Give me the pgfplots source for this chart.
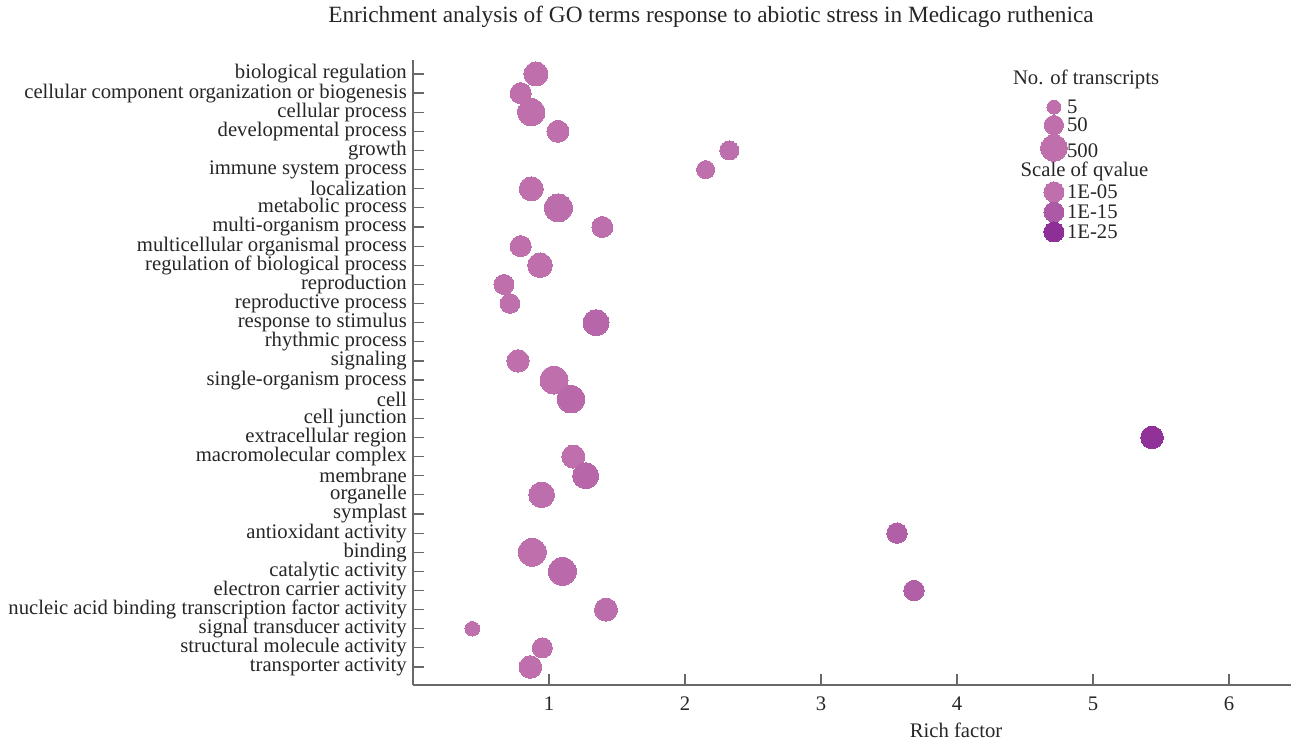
\documentclass[border=0pt]{standalone}
\usepackage{pgfplots}
\pgfplotsset{compat=1.18}
\usepackage{pgfplotstable}
\usepackage{fontspec}
\setmainfont{Liberation Serif}
\definecolor{axgray}{RGB}{105,105,105}

% y = category index (0 = bottom), x = rich factor, r = bubble radius (px), c = shade (0 light .. 1 dark)
\pgfplotstableread{
y  x      r     c
31 0.904  12.0  0.05
30 0.792  10.5  0.05
29 0.870  13.6  0.05
28 1.066  11.0  0.05
27 2.326  9.5   0.08
26 2.152  9.0   0.05
25 0.870  12.0  0.05
24 1.069  14.0  0.10
23 1.392  10.5  0.08
22 0.792  10.5  0.05
21 0.934  12.3  0.05
20 0.669  10.0  0.05
19 0.713  9.8   0.05
18 1.346  13.0  0.22
16 0.772  11.2  0.05
15 1.037  14.0  0.05
14 1.162  13.8  0.18
12 5.434  11.3  0.95
11 1.179  11.5  0.05
10 1.270  13.0  0.22
9  0.946  12.8  0.08
7  3.559  10.2  0.35
6  0.877  14.0  0.05
5  1.098  14.0  0.15
4  3.684  10.2  0.35
3  1.419  11.5  0.10
2  0.436  7.3   0.05
1  0.951  10.0  0.05
0  0.863  11.3  0.05
}\datatable

% legend bubbles (size)
\pgfplotstableread{
y      x      r
29.27  4.713  7.0
28.33  4.713  9.6
27.13  4.713  13.2
}\legsize
% legend bubbles (colour)
\pgfplotstableread{
y      x      r     c
24.83  4.713  10.0  0.05
23.78  4.713  10.0  0.45
22.74  4.713  10.0  1.00
}\legcol

\pgfplotsset{bubble/.style={scatter, only marks, mark=*,
  visualization depends on={\thisrow{r}\as\rad},
  scatter/use mapped color={draw=mapped color, fill=mapped color, line width=0pt},
  scatter/@pre marker code/.append style={/tikz/mark size=\rad}}}

\begin{document}
\begin{tikzpicture}
\path[use as bounding box] (0pt,0pt) rectangle (1291pt,740pt);
\begin{axis}[
  at={(413pt,55pt)}, anchor=south west,
  scale only axis, width=878pt, height=625pt,
  xmin=0, xmax=6.456, ymin=-0.94, ymax=31.73,
  axis x line*=bottom, axis y line*=left,
  axis line style={axgray, line width=1.3pt, -},
  every tick/.style={axgray, line width=1.2pt},
  tick align=inside, major tick length=11pt,
  xtick={1,2,3,4,5,6},
  ytick={0,...,31},
  yticklabels={transporter activity,structural molecule activity,signal transducer activity,nucleic acid binding transcription factor activity,electron carrier activity,catalytic activity,binding,antioxidant activity,symplast,organelle,membrane,macromolecular complex,extracellular region,cell junction,cell,single-organism process,signaling,rhythmic process,response to stimulus,reproductive process,reproduction,regulation of biological process,multicellular organismal process,multi-organism process,metabolic process,localization,immune system process,growth,developmental process,cellular process,cellular component organization or biogenesis,biological regulation},
  /pgf/number format/assume math mode=true,
  ticklabel style={font=\fontsize{20.7}{22}\selectfont, text=black!85},
  yticklabel style={inner sep=0pt, xshift=-6pt},
  xticklabel style={inner sep=0pt, yshift=-12pt},
  xlabel={Rich factor},
  xlabel style={font=\fontsize{20.7}{22}\selectfont, text=black!85, inner sep=0pt,
    at={(axis description cs:0.6185,0)}, anchor=base, yshift=-52pt},
  clip=false,
  colormap={pm}{rgb255=(193,115,173) rgb255=(170,86,165) rgb255=(142,46,151)},
  point meta min=0, point meta max=1,
]
\addplot[bubble, point meta=\thisrow{c}] table[x=x,y=y] {\datatable};
\addplot[bubble, point meta=0.05] table[x=x,y=y] {\legsize};
\addplot[bubble, point meta=\thisrow{c}] table[x=x,y=y] {\legcol};
\begin{scope}[every node/.style={font=\fontsize{20.7}{22}\selectfont, text=black!85, inner sep=0pt}]
\node at (axis cs:4.949,30.72) {No. of transcripts};
\node[anchor=west] at (axis cs:4.808,29.27) {5};
\node[anchor=west] at (axis cs:4.808,28.33) {50};
\node[anchor=west] at (axis cs:4.808,27.0) {500};
\node at (axis cs:4.937,25.9) {Scale of qvalue};
\node[anchor=west] at (axis cs:4.808,24.83) {1E-05};
\node[anchor=west] at (axis cs:4.808,23.78) {1E-15};
\node[anchor=west] at (axis cs:4.808,22.74) {1E-25};
\end{scope}
\end{axis}
\node[font=\fontsize{23.3}{25}\selectfont, text=black!85] at (711pt,723pt) {Enrichment analysis of GO terms response to abiotic stress in Medicago ruthenica};
\end{tikzpicture}
\end{document}
